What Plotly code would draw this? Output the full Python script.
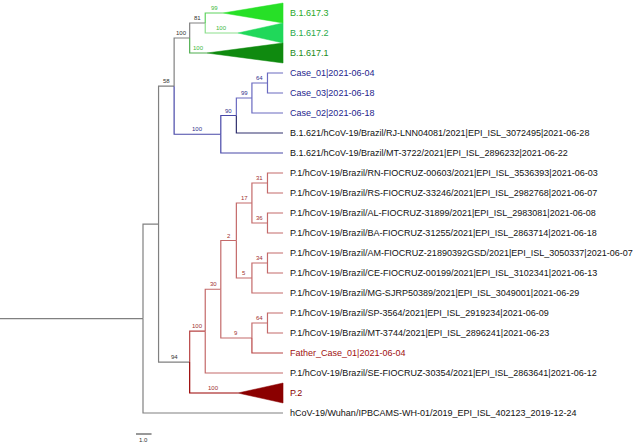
import plotly.graph_objects as go

# tips, top to bottom
leaves = ["B.1.617.3", "B.1.617.2", "B.1.617.1",
          "Case_01|2021-06-04", "Case_03|2021-06-18", "Case_02|2021-06-18",
          "B.1.621/hCoV-19/Brazil/RJ-LNN04081/2021|EPI_ISL_3072495|2021-06-28",
          "B.1.621/hCoV-19/Brazil/MT-3722/2021|EPI_ISL_2896232|2021-06-22",
          "P.1/hCoV-19/Brazil/RN-FIOCRUZ-00603/2021|EPI_ISL_3536393|2021-06-03",
          "P.1/hCoV-19/Brazil/RS-FIOCRUZ-33246/2021|EPI_ISL_2982768|2021-06-07",
          "P.1/hCoV-19/Brazil/AL-FIOCRUZ-31899/2021|EPI_ISL_2983081|2021-06-08",
          "P.1/hCoV-19/Brazil/BA-FIOCRUZ-31255/2021|EPI_ISL_2863714|2021-06-18",
          "P.1/hCoV-19/Brazil/AM-FIOCRUZ-21890392GSD/2021|EPI_ISL_3050337|2021-06-07",
          "P.1/hCoV-19/Brazil/CE-FIOCRUZ-00199/2021|EPI_ISL_3102341|2021-06-13",
          "P.1/hCoV-19/Brazil/MG-SJRP50389/2021|EPI_ISL_3049001|2021-06-29",
          "P.1/hCoV-19/Brazil/SP-3564/2021|EPI_ISL_2919234|2021-06-09",
          "P.1/hCoV-19/Brazil/MT-3744/2021|EPI_ISL_2896241|2021-06-23",
          "Father_Case_01|2021-06-04",
          "P.1/hCoV-19/Brazil/SE-FIOCRUZ-30354/2021|EPI_ISL_2863641|2021-06-12",
          "P.2",
          "hCoV-19/Wuhan/IPBCAMS-WH-01/2019_EPI_ISL_402123_2019-12-24"]

# tree nodes: id, parent, depth from root, bootstrap
node_id = ["root", "n1", "n58", "n617", "n81", "B.1.617.3", "B.1.617.2", "B.1.617.1",
           "nBlue", "n90", "n99", "n64b", "Case_01", "Case_03", "Case_02", "RJ", "MT",
           "n94", "n100r", "n30", "n2", "n17", "n31", "RN", "RS", "n36", "AL", "BA",
           "n5", "n34", "AM", "CE", "MG", "n9", "n64r", "SP", "MT3744", "Father", "SE",
           "P.2", "Wuhan"]
node_parent = [None, "root", "n1", "n58", "n617", "n81", "n81", "n617",
               "n58", "nBlue", "n90", "n99", "n64b", "n64b", "n99", "n90", "nBlue",
               "n1", "n94", "n100r", "n30", "n2", "n17", "n31", "n31", "n17", "n36", "n36",
               "n2", "n5", "n34", "n34", "n5", "n30", "n9", "n64r", "n64r", "n9", "n100r",
               "n94", "root"]
node_depth = [0, 1, 2, 3, 4, 5.14, 6.1, 4.1,
              5, 6, 7, 8, 9, 9, 9, 9, 9,
              3, 4, 5, 6, 7, 8, 9, 9, 8, 9, 9,
              7, 8, 9, 9, 9, 7, 8, 9, 9, 9, 9,
              6.1, 9]
node_support = [None, None, 58, 100, 81, 99, 100, 100,
                100, 90, 99, 64, None, None, None, None, None,
                94, 100, 30, 2, 17, 31, None, None, 36, None, None,
                5, 34, None, None, None, 9, 64, None, None, None, None,
                100, None]
leaf_of = {"B.1.617.3": 0, "B.1.617.2": 1, "B.1.617.1": 2, "Case_01": 3, "Case_03": 4,
           "Case_02": 5, "RJ": 6, "MT": 7, "RN": 8, "RS": 9, "AL": 10, "BA": 11, "AM": 12,
           "CE": 13, "MG": 14, "SP": 15, "MT3744": 16, "Father": 17, "SE": 18, "P.2": 19,
           "Wuhan": 20}
collapsed = ["B.1.617.3", "B.1.617.2", "B.1.617.1", "P.2"]
root_length = 9.2
tip_depth = 9
scale_len = 1.0

# styles
GREY = "#808080"
branch_col = {n: GREY for n in node_id}
branch_col.update({"B.1.617.3": "#5fd35f", "B.1.617.2": "#8ddf8d", "B.1.617.1": "#4fae4f"})
for n in ["nBlue", "n90", "MT"]:
    branch_col[n] = "#4848a8"
for n in ["n99", "n64b", "Case_01", "Case_03", "Case_02"]:
    branch_col[n] = "#6a6ac0"
branch_col["RJ"] = "#30306e"
for n in ["n30", "n2", "n17", "n31", "RN", "RS", "n36", "AL", "BA", "n5", "n34", "AM", "CE",
          "MG", "n9", "n64r", "SP", "MT3744", "SE"]:
    branch_col[n] = "#c46a6a"
branch_col["n100r"] = "#b84444"
branch_col["Father"] = "#b84444"
branch_col["P.2"] = "#990000"
tri_col = {"B.1.617.3": "#27e027", "B.1.617.2": "#20d85a", "B.1.617.1": "#0f8a0f", "P.2": "#8b0000"}
text_col = {0: "#2aa82a", 1: "#2aa84a", 2: "#1a8a1a", 3: "#24248c", 4: "#24248c", 5: "#24248c",
            17: "#a01010", 19: "#8b0000"}
sup_col = {"B.1.617.3": "#3cb83c", "B.1.617.2": "#3cb83c", "B.1.617.1": "#3cb83c"}
for n in ["nBlue", "n90", "n99", "n64b"]:
    sup_col[n] = "#30308c"
for n in ["n100r", "n30", "n2", "n17", "n31", "n36", "n5", "n34", "n9", "n64r", "P.2"]:
    sup_col[n] = "#a03030"

depth = dict(zip(node_id, node_depth))
parent = dict(zip(node_id, node_parent))
support = dict(zip(node_id, node_support))
children = {n: [c for c in node_id if parent[c] == n] for n in node_id}


def ypos(n):
    if n in leaf_of:
        return leaf_of[n]
    ys = [ypos(c) for c in children[n]]
    return (min(ys) + max(ys)) / 2


fig = go.Figure()
FONT = "Liberation Sans, Arial, sans-serif"

# root branch
fig.add_trace(go.Scatter(x=[-root_length, 0], y=[ypos("root")] * 2, mode="lines",
                         line=dict(color=GREY, width=1.2), hoverinfo="skip"))

annotations = []
for n in node_id[1:]:
    p = parent[n]
    y, yp = ypos(n), ypos(p)
    fig.add_trace(go.Scatter(x=[depth[p], depth[p], depth[n]], y=[yp, y, y], mode="lines",
                             line=dict(color=branch_col[n], width=1.2), hoverinfo="skip"))
    if support[n] is not None:
        annotations.append(dict(x=(depth[p] + depth[n]) / 2, y=y, text=str(support[n]),
                                showarrow=False, yshift=5, xanchor="center", yanchor="middle",
                                font=dict(size=6, color=sup_col.get(n, "#333333"), family=FONT)))

for n in collapsed:
    y = ypos(n)
    fig.add_trace(go.Scatter(x=[depth[n], tip_depth, tip_depth, depth[n]],
                             y=[y, y - 0.5, y + 0.5, y], mode="lines", fill="toself",
                             fillcolor=tri_col[n], line=dict(color=tri_col[n], width=0.5),
                             hoverinfo="skip"))

for i, lab in enumerate(leaves):
    annotations.append(dict(x=tip_depth, y=i, text=lab, showarrow=False, xanchor="left",
                            yanchor="middle", xshift=5,
                            font=dict(size=9, color=text_col.get(i, "#111111"), family=FONT)))

# scale bar
sb_x0, sb_y = -0.45, 21.05
fig.add_trace(go.Scatter(x=[sb_x0, sb_x0 + scale_len], y=[sb_y, sb_y], mode="lines",
                         line=dict(color="#333333", width=1), hoverinfo="skip"))
annotations.append(dict(x=sb_x0 + scale_len / 2, y=sb_y, text=str(scale_len),
                        showarrow=False, yanchor="middle", yshift=-6, borderpad=0,
                        font=dict(size=6, color="#333333", family=FONT)))

fig.update_layout(width=633, height=444, autosize=False, showlegend=False,
                  margin=dict(l=0, r=0, t=0, b=0), plot_bgcolor="white",
                  paper_bgcolor="white", annotations=annotations)
fig.update_xaxes(range=[-9.19, 31.49], visible=False)
fig.update_yaxes(range=[21.55, -0.65], visible=False)
fig.write_html("out.html", config={"displayModeBar": False},
               post_script="document.body.style.margin='0';")
